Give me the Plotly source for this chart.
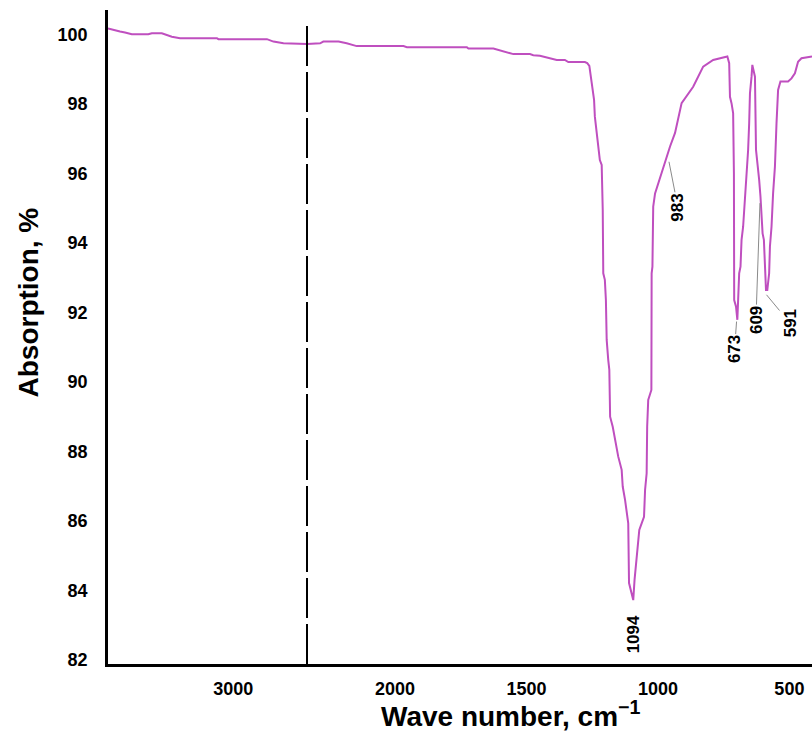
import plotly.graph_objects as go

# ---------------- data ----------------
# left part of the broken wave-number axis (4000 -> break)
wn_left = [4000, 3944, 3904, 3864, 3810, 3678, 3650, 3570, 3530, 3490, 3424,
           3130, 3118, 2730, 2678, 2598, 2410]
abs_left = [100.18, 100.14, 100.09, 100.06, 100.01, 100.01, 100.04, 100.04, 99.99,
            99.94, 99.90, 99.90, 99.87, 99.87, 99.80, 99.75, 99.73]

# right part of the broken axis (break -> 414)
wn_right = [2335, 2285, 2273, 2215, 2184, 2171, 2146, 1968, 1955, 1727, 1721, 1626,
            1588, 1550, 1487, 1474, 1449, 1411, 1385, 1354, 1341, 1278, 1269, 1261,
            1256, 1248, 1243, 1240, 1233, 1227, 1221, 1214, 1210, 1208, 1202, 1198,
            1195, 1189, 1185, 1183, 1182, 1172, 1164, 1151, 1138, 1134, 1125, 1119,
            1113, 1110, 1104, 1098, 1094, 1089, 1084, 1079, 1071, 1062, 1053, 1049,
            1043, 1041, 1037, 1025, 1024, 1021, 1018, 1011, 999, 986, 973, 961, 954,
            935, 910, 866, 828, 790, 764, 736, 729, 726, 720, 714, 711, 710, 703, 698,
            695, 691, 686, 682, 676, 669, 663, 657, 653, 650, 644, 641, 638, 631, 627,
            622, 615, 610, 606, 602, 597, 593, 589, 584, 577, 574, 568, 562, 555, 549,
            543, 534, 505, 492, 479, 467, 454, 414]
abs_right = [99.73, 99.75, 99.80, 99.80, 99.75, 99.73, 99.67, 99.67, 99.64, 99.64,
             99.60, 99.60, 99.51, 99.44, 99.44, 99.41, 99.39, 99.32, 99.27, 99.27,
             99.21, 99.21, 99.18, 99.10, 98.79, 98.41, 98.12, 97.64, 97.16, 96.78,
             96.39, 96.25, 94.95, 93.13, 92.94, 92.36, 91.21, 90.63, 90.35, 89.48,
             89.00, 88.71, 88.33, 87.85, 87.47, 86.99, 86.60, 86.22, 85.93, 84.21,
             84.01, 83.82, 83.72, 84.30, 84.68, 85.26, 85.74, 85.93, 86.12, 86.89,
             87.37, 88.71, 89.48, 89.77, 93.13, 93.32, 95.05, 95.43, 95.72, 96.01,
             96.30, 96.59, 96.78, 97.17, 98.03, 98.50, 99.08, 99.27, 99.32, 99.37,
             99.18, 98.21, 98.02, 97.74, 96.01, 92.36, 92.17, 91.79, 92.36, 93.13,
             93.32, 94.09, 94.47, 95.24, 95.82, 96.68, 97.45, 98.31, 98.79, 99.13,
             99.03, 98.79, 96.68, 96.39, 95.82, 95.34, 94.67, 94.28, 94.09, 93.32,
             92.65, 92.65, 93.13, 93.90, 94.47, 95.43, 96.20, 97.45, 98.41, 98.65,
             98.65, 98.74, 98.89, 99.22, 99.32, 99.37]

peak_labels = ["1094", "983", "673", "609", "591"]
peak_wn = [1094, 958, 701, 612, 587]
peak_abs = [83.72, 96.34, 91.74, 95.15, 92.51]

y_ticks = [82, 84, 86, 88, 90, 92, 94, 96, 98, 100]
x_ticks_left = [3000]
x_ticks_right = [2000, 1500, 1000, 500]

left_range = [4000, 2410]
right_range = [2335, 414]
y_range = [81.88, 100.71]

# ---------------- figure ----------------
FONT = "Liberation Sans, Arial, sans-serif"
CURVE = "#BF4FBF"
split = (307 - 108) / 704.0

fig = go.Figure()
fig.add_trace(go.Scatter(x=wn_left, y=abs_left, xaxis="x", yaxis="y", mode="lines",
                         line=dict(color=CURVE, width=2), showlegend=False))
fig.add_trace(go.Scatter(x=wn_right, y=abs_right, xaxis="x2", yaxis="y", mode="lines",
                         line=dict(color=CURVE, width=2), showlegend=False))

axis_common = dict(showgrid=False, zeroline=False, ticks="", showline=True,
                   linecolor="black", linewidth=2.5,
                   tickfont=dict(family=FONT, size=18, color="black", weight="bold"))

fig.update_layout(
    width=812, height=746,
    margin=dict(l=108, r=0, t=10, b=82),
    paper_bgcolor="white", plot_bgcolor="white",
    xaxis=dict(domain=[0, split], range=left_range, anchor="y",
               tickvals=x_ticks_left, ticktext=[str(v) for v in x_ticks_left],
               ticklabelstandoff=7, **axis_common),
    xaxis2=dict(domain=[split, 1], range=right_range, anchor="y",
                tickvals=x_ticks_right, ticktext=[str(v) for v in x_ticks_right],
                ticklabelstandoff=7, **axis_common),
    yaxis=dict(range=y_range, anchor="x", tickvals=y_ticks,
               ticktext=[str(v) for v in y_ticks], ticklabelstandoff=14,
               **axis_common),
)

# axis break marker (long-dash vertical line)
fig.add_shape(type="line", xref="paper", yref="y", x0=split, x1=split,
              y0=y_range[0], y1=100.34,
              line=dict(color="black", width=2, dash="40px,6px"))

# peak labels
offsets = {"1094": None, "983": (9, 46), "673": (-2, 28), "609": (-4, 117), "591": (24, 29)}
for lab, xv, yv in zip(peak_labels, peak_wn, peak_abs):
    off = offsets[lab]
    if off is None:
        fig.add_annotation(x=xv, y=yv, xref="x2", yref="y", text="<b>%s</b>" % lab,
                           showarrow=False, textangle=-90, yshift=-34,
                           xanchor="center", yanchor="middle",
                           font=dict(family=FONT, size=17, color="black"))
    else:
        fig.add_annotation(x=xv, y=yv, xref="x2", yref="y", text="<b>%s</b>" % lab,
                           showarrow=True, arrowhead=0, arrowwidth=1,
                           arrowcolor="#8a8a8a", ax=off[0], ay=off[1], standoff=0,
                           textangle=-90, font=dict(family=FONT, size=17, color="black"))

# axis titles
fig.add_annotation(xref="paper", yref="paper", x=(510 - 108) / 704.0, y=(664 - 714) / 654.0,
                   text="<b>Wave number, cm<sup>\u22121</sup></b>", showarrow=False,
                   xanchor="center", yanchor="middle",
                   font=dict(family=FONT, size=28, color="black"))
fig.add_annotation(xref="paper", yref="paper", x=(27.5 - 108) / 704.0, y=(664 - 303) / 654.0,
                   text="<b>Absorption, %</b>", showarrow=False, textangle=-90,
                   xanchor="center", yanchor="middle",
                   font=dict(family=FONT, size=28, color="black"))

fig.write_html("out.html")
